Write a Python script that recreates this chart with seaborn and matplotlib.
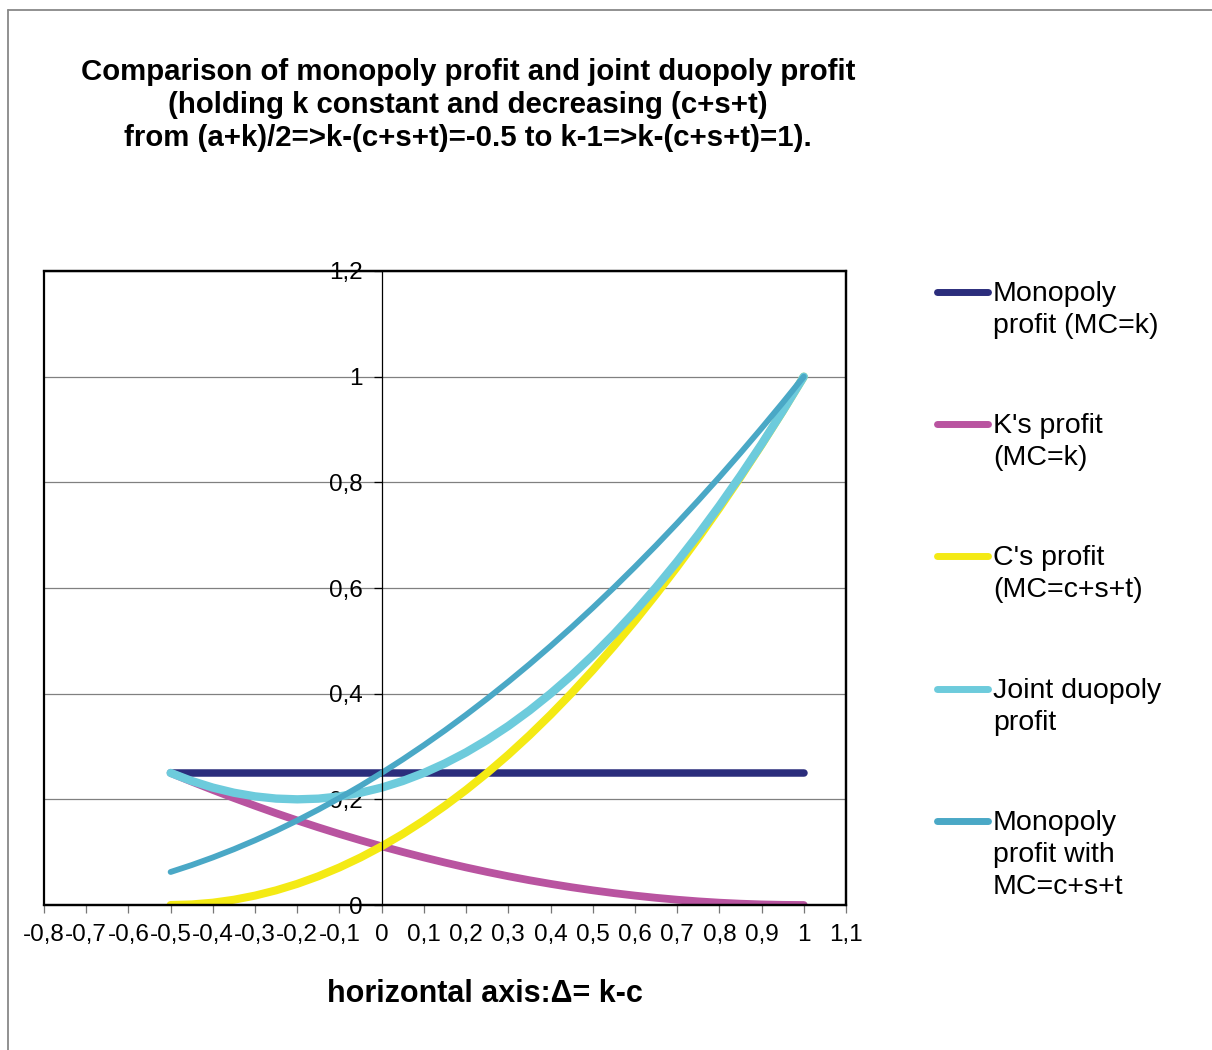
import numpy as np
import pandas as pd
import matplotlib
matplotlib.use("Agg")
import matplotlib.pyplot as plt
import seaborn as sns
from matplotlib.lines import Line2D
from matplotlib.patches import Rectangle
from matplotlib.ticker import FuncFormatter, MultipleLocator

# ---------------- data ----------------
delta = [-0.5, -0.45, -0.4, -0.35, -0.3, -0.25, -0.2, -0.15, -0.1, -0.05,
         0.0, 0.05, 0.1, 0.15, 0.2, 0.25, 0.3, 0.35, 0.4, 0.45, 0.5,
         0.55, 0.6, 0.65, 0.7, 0.75, 0.8, 0.85, 0.9, 0.95, 1.0]

monopoly_k = [0.25] * 31

k_profit = [0.25, 0.2336, 0.2178, 0.2025, 0.1878, 0.1736, 0.16, 0.1469, 0.1344, 0.1225,
            0.1111, 0.1003, 0.09, 0.0803, 0.0711, 0.0625, 0.0544, 0.0469, 0.04, 0.0336, 0.0278,
            0.0225, 0.0178, 0.0136, 0.01, 0.0069, 0.0044, 0.0025, 0.0011, 0.0003, 0.0]

c_profit = [0.0, 0.0011, 0.0044, 0.01, 0.0178, 0.0278, 0.04, 0.0544, 0.0711, 0.09,
            0.1111, 0.1344, 0.16, 0.1878, 0.2178, 0.25, 0.2844, 0.3211, 0.36, 0.4011, 0.4444,
            0.49, 0.5378, 0.5878, 0.64, 0.6944, 0.7511, 0.81, 0.8711, 0.9344, 1.0]

joint_profit = [0.25, 0.2347, 0.2222, 0.2125, 0.2056, 0.2014, 0.2, 0.2013, 0.2055, 0.2125,
                0.2222, 0.2347, 0.25, 0.2681, 0.2889, 0.3125, 0.3388, 0.368, 0.4, 0.4347, 0.4722,
                0.5125, 0.5556, 0.6014, 0.65, 0.7013, 0.7555, 0.8125, 0.8722, 0.9347, 1.0]

monopoly_csT = [0.0625, 0.0756, 0.09, 0.1056, 0.1225, 0.1406, 0.16, 0.1806, 0.2025, 0.2256,
                0.25, 0.2756, 0.3025, 0.3306, 0.36, 0.3906, 0.4225, 0.4556, 0.49, 0.5256, 0.5625,
                0.6006, 0.64, 0.6806, 0.7225, 0.7656, 0.81, 0.8556, 0.9025, 0.9506, 1.0]

series_labels = ["Monopoly\nprofit (MC=k)", "K's profit\n(MC=k)", "C's profit\n(MC=c+s+t)",
                 "Joint duopoly\nprofit", "Monopoly\nprofit with\nMC=c+s+t"]
series_values = [monopoly_k, k_profit, c_profit, joint_profit, monopoly_csT]

title = ("Comparison of monopoly profit and joint duopoly profit\n"
         "(holding k constant and decreasing (c+s+t)\n"
         "from (a+k)/2=>k-(c+s+t)=-0.5 to k-1=>k-(c+s+t)=1).")
xlabel = "horizontal axis:\u0394= k-c"

# ---------------- styles ----------------
colors = ["#2b2d7c", "#b954a0", "#f4ea14", "#6dcbdc", "#4aa8c6"]
widths = [5.4, 5.6, 5.8, 6.0, 4.2]
legend_y = [292, 424, 556, 689, 821]

sns.set_theme(style="white")
plt.rcParams["font.family"] = ["Liberation Sans", "DejaVu Sans"]
plt.rcParams["text.color"] = "black"
plt.rcParams["axes.labelcolor"] = "black"
plt.rcParams["xtick.color"] = "black"
plt.rcParams["ytick.color"] = "black"

W, H = 1212, 1050
fig = plt.figure(figsize=(W / 100, H / 100), dpi=100)
fig.patch.set_facecolor("white")

ax = fig.add_axes([44 / W, 1 - 905 / H, (846 - 44) / W, (905 - 271) / H])
ax.set_facecolor("white")

for lab, vals, col, lw in zip(series_labels, series_values, colors, widths):
    d = pd.DataFrame({"delta": delta, "value": vals})
    sns.lineplot(data=d, x="delta", y="value", ax=ax, color=col, linewidth=lw,
                 estimator=None, sort=False, legend=False,
                 solid_capstyle="round", solid_joinstyle="round")

ax.set_xlim(-0.8, 1.1)
ax.set_ylim(0, 1.2)
ax.xaxis.set_major_locator(MultipleLocator(0.1))
ax.yaxis.set_major_locator(MultipleLocator(0.2))


def comma_fmt(v, pos):
    v = round(v, 2)
    if abs(v) < 1e-9:
        v = 0.0
    return f"{v:g}".replace(".", ",")


ax.xaxis.set_major_formatter(FuncFormatter(comma_fmt))
ax.yaxis.set_major_formatter(FuncFormatter(comma_fmt))

ax.yaxis.grid(True, color="#808080", linewidth=0.9)
ax.xaxis.grid(False)

# y-axis crossing at x = 0
ax.spines["left"].set_position(("data", 0))
ax.spines["left"].set_linewidth(0.9)
ax.spines["left"].set_color("black")
for s in ["top", "right", "bottom"]:
    ax.spines[s].set_linewidth(1.6)
    ax.spines[s].set_color("black")
ax.add_patch(Rectangle((0, 0), 1, 1, transform=ax.transAxes, fill=False,
                       edgecolor="black", linewidth=1.6, clip_on=False, zorder=3))

ax.tick_params(axis="y", direction="out", length=5.5, width=0.9, color="black",
               pad=8, labelsize=17.5, labelcolor="black", left=True)
ax.tick_params(axis="x", direction="out", length=5.5, width=0.9, color="#777777",
               pad=8, labelsize=17.5, labelcolor="black", bottom=True)
ax.set_xlabel("")
ax.set_ylabel("")

# title and x-axis label
fig.text(468 / W, 1 - 105 / H, title, ha="center", va="center", fontsize=21.2,
         fontweight="bold", linespacing=1.24, multialignment="center", color="black")
fig.text(485 / W, 1 - 994 / H, xlabel, ha="center", va="center", fontsize=22,
         fontweight="bold", color="black")

# legend
for lab, col, lw, yy in zip(series_labels, colors, widths, legend_y):
    fig.add_artist(Line2D([937 / W, 988 / W], [1 - yy / H, 1 - yy / H], color=col,
                          linewidth=5.0, solid_capstyle="round"))
    fig.text(993 / W, 1 - (yy - 11) / H, lab, ha="left", va="top", fontsize=20.5,
             linespacing=1.3, color="black")

# outer frame of the chart area
fig.add_artist(Line2D([8 / W, 1.0], [1 - 10 / H, 1 - 10 / H], color="#888888", linewidth=1.3))
fig.add_artist(Line2D([8 / W, 8 / W], [1 - 10 / H, 0.0], color="#888888", linewidth=1.3))

fig.savefig("out.png", dpi=100, facecolor="white")
